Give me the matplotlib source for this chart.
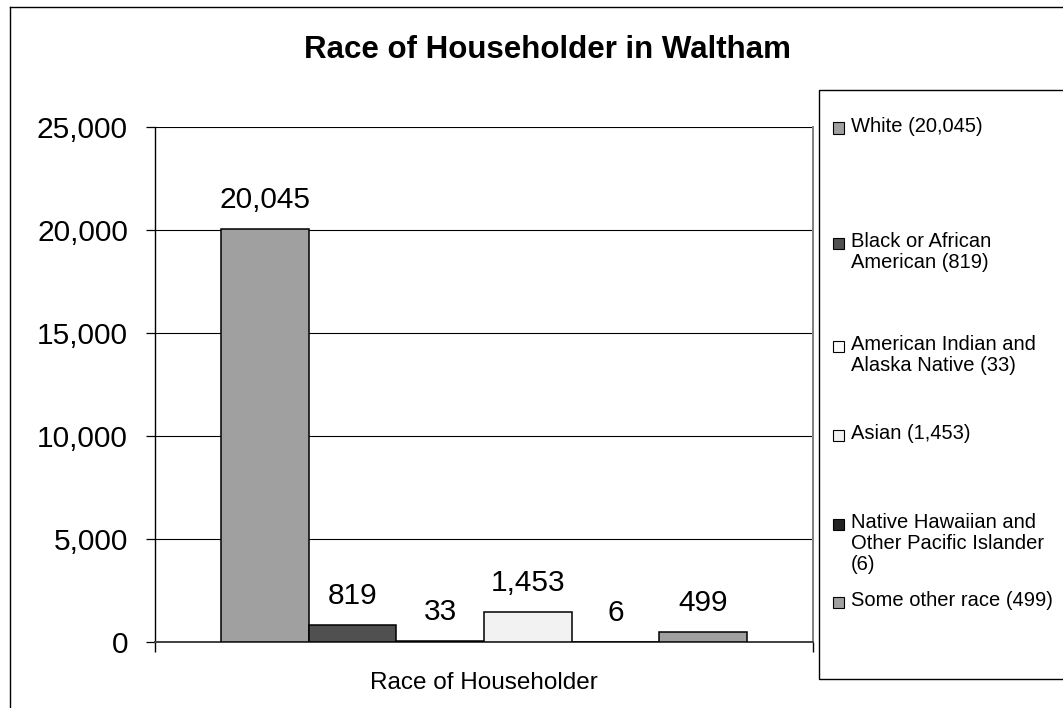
import matplotlib
matplotlib.use('Agg')
import matplotlib.pyplot as plt
from matplotlib.patches import Rectangle
from matplotlib.lines import Line2D

plt.rcParams['font.family'] = ['Liberation Sans', 'DejaVu Sans']

# 数据
categories = ['White', 'Black or African American', 'American Indian and Alaska Native',
              'Asian', 'Native Hawaiian and Other Pacific Islander', 'Some other race']
values = [20045, 819, 33, 1453, 6, 499]
legend_labels = ['White (20,045)', 'Black or African\nAmerican (819)',
                 'American Indian and\nAlaska Native (33)', 'Asian (1,453)',
                 'Native Hawaiian and\nOther Pacific Islander\n(6)', 'Some other race (499)']
bar_colors = ['#a0a0a0', '#505050', '#fafafa', '#f2f2f2', '#222222', '#a0a0a0']
y_ticks = [0, 5000, 10000, 15000, 20000, 25000]

W, H = 1063, 708
fig = plt.figure(figsize=(W / 100, H / 100), dpi=100)


def fx(px):
    return px / W


def fy(py):
    return 1 - py / H


# 绘图区
ax = fig.add_axes([fx(155), fy(642), fx(813) - fx(155), fy(127) - fy(642)])

n = len(values)
bar_w = 1 / (n + 1.5)
for i, (v, c) in enumerate(zip(values, bar_colors)):
    x = 0.5 + (i - (n - 1) / 2) * bar_w
    ax.bar(x, v, width=bar_w, color=c, edgecolor='black', linewidth=1.1, zorder=3)
    ax.annotate(f'{v:,}', (x, v), xytext=(0, 21), textcoords='offset points',
                ha='center', va='center', fontsize=21.5, zorder=4)

ax.set_xlim(0, 1)
ax.set_ylim(0, 25000)
ax.set_yticks(y_ticks)
ax.set_yticklabels([f'{t:,}' for t in y_ticks], fontsize=21.5)
ax.yaxis.grid(True, color='black', linewidth=0.8, zorder=0)
ax.tick_params(axis='y', direction='out', length=6.5, width=0.9, pad=13)

ax.set_xticks([0, 1])
ax.set_xticklabels(['', ''])
ax.tick_params(axis='x', direction='out', length=7, width=1.0)
ax.xaxis.get_major_ticks()[1].tick1line.set_color('#808080')

ax.spines['top'].set_visible(False)
ax.spines['right'].set_color('#808080')
ax.spines['right'].set_linewidth(1.4)
ax.spines['left'].set_linewidth(1.0)
ax.spines['bottom'].set_color('#404040')
ax.spines['bottom'].set_linewidth(1.4)

ax.text(0.5, -41 / 515, 'Race of Householder', transform=ax.transAxes,
        ha='center', va='center', fontsize=17.5)

# 标题
fig.text(fx(547), fy(50), 'Race of Householder in Waltham', ha='center', va='center',
         fontsize=22.5, fontweight='bold')

# 外框
fig.add_artist(Line2D([fx(10), fx(10)], [0, fy(7)], color='black', linewidth=1.0))
fig.add_artist(Line2D([fx(10), 1], [fy(7), fy(7)], color='black', linewidth=1.0))

# 图例
fig.add_artist(Rectangle((fx(819), fy(679)), 1, fy(90) - fy(679), transform=fig.transFigure,
                         facecolor='white', edgecolor='black', linewidth=1.0))
legend_y = [128, 243, 346, 435, 524, 602]
for lbl, c, py in zip(legend_labels, bar_colors, legend_y):
    fig.add_artist(Rectangle((fx(833), fy(py + 5.5)), fx(11), fy(py - 5.5) - fy(py + 5.5),
                             transform=fig.transFigure, facecolor=c,
                             edgecolor='black', linewidth=0.8))
    fig.text(fx(851), fy(py - 11), lbl, ha='left', va='top', fontsize=14.5, linespacing=1.12)

fig.savefig('out.png', dpi=100)
